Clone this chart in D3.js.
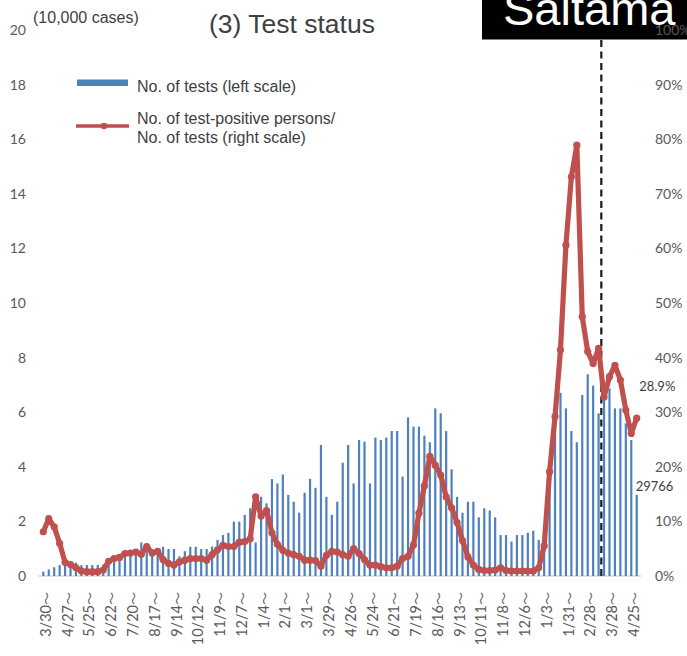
<!DOCTYPE html>
<html><head><meta charset="utf-8">
<script src="https://cdn.jsdelivr.net/npm/d3@7"></script>
<style>body{margin:0;background:#fff;overflow:hidden}</style>
</head><body>
<script>
// Weekly number of tests (unit: 10,000 cases), week starting 3/30/2020 ... 5/2/2022
const tests = [
0.16,0.24,0.32,0.40,0.42,0.46,0.49,0.40,0.40,0.40,
0.40,0.42,0.55,0.65,0.72,0.80,0.89,0.95,1.23,1.20,
0.98,0.89,1.07,0.99,0.99,0.72,0.91,1.07,1.07,0.99,
0.99,1.08,1.32,1.50,1.58,1.99,1.99,2.24,2.48,1.23,
2.90,2.66,3.55,3.39,3.72,2.97,2.72,2.32,3.05,3.56,
3.23,4.80,2.90,2.24,2.72,4.15,4.80,3.39,4.98,4.92,
3.39,5.07,4.98,5.07,5.31,5.31,3.64,5.81,5.47,5.47,
5.14,4.90,6.14,5.96,5.31,3.91,2.90,2.32,2.72,2.72,
2.15,2.48,2.40,2.15,1.50,1.50,1.26,1.50,1.50,1.59,
1.66,1.32,1.80,3.60,5.84,6.71,6.14,5.31,4.90,6.63,
7.39,6.97,5.96,6.60,6.87,6.14,6.14,5.59,4.98,2.9766
];
// Test-positive persons / tests (%)
const positivity = [
8.1,10.5,9.0,6.0,2.5,2.1,1.5,0.9,0.8,0.8,
0.8,1.1,2.7,3.2,3.4,4.1,4.2,4.4,4.0,5.4,
4.2,4.5,3.0,2.3,2.0,2.6,2.9,3.2,3.2,3.2,
2.9,3.9,4.8,5.6,5.4,5.4,6.2,6.3,6.8,14.5,
11.0,12.0,7.9,5.8,4.7,4.2,3.9,3.6,2.9,2.9,
2.8,1.8,3.8,4.5,4.4,3.9,3.6,5.0,4.1,3.0,
2.0,2.0,1.7,1.5,1.5,1.8,3.2,3.6,5.7,11.5,
16.5,21.9,20.3,18.5,14.5,12.5,9.8,6.5,3.5,2.0,
1.2,1.0,1.0,1.1,1.5,1.0,0.9,0.9,0.9,0.9,
0.9,1.5,5.5,19.1,29.2,41.4,60.6,73.1,78.9,47.5,
41.1,38.9,41.7,32.8,36.5,38.6,35.9,30.4,26.1,28.9
];
// Category labels shown every 4 weeks
const tickLabels = ["3/30","4/27","5/25","6/22","7/20","8/17","9/14","10/12","11/9","12/7",
"1/4","2/1","3/1","3/29","4/26","5/24","6/21","7/19","8/16","9/13","10/11","11/8","12/6",
"1/3","1/31","2/28","3/28","4/25"];
const tickEvery = 4;
const leftTicks = [0,2,4,6,8,10,12,14,16,18,20];
const rightTicks = [0,10,20,30,40,50,60,70,80,90,100];
const markerWeek = 102.5; // boundary between week of 3/14 and 3/21 (2022)
const lastTestsLabel = "29766";
const lastRateLabel = "28.9%";

const W = 687, H = 656;
const svg = d3.select("body").append("svg").attr("width", W).attr("height", H)
  .style("font-family", "Lato, 'Liberation Sans', sans-serif");

const idx = d3.range(tests.length);
const x = d3.scalePoint().domain(idx).range([43.3, 636.7]);
const yL = d3.scaleLinear().domain([0, 20]).range([576, 30]);
const yR = d3.scaleLinear().domain([0, 100]).range([576, 30]);

const axisColor = "#595959";

// baseline
svg.append("line").attr("x1", 38).attr("x2", 641).attr("y1", yL(0)).attr("y2", yL(0))
  .attr("stroke", "#D9D9D9").attr("stroke-width", 1.5);

// left axis
const gL = svg.append("g").attr("transform", "translate(30,0)")
  .call(d3.axisLeft(yL).tickValues(leftTicks).tickSize(0).tickPadding(4));
gL.select(".domain").remove();
gL.selectAll("text").attr("fill", axisColor).style("font-size", "14px").style("font-family", "Lato, sans-serif");

// bars
const bw = 2.2;
svg.append("g").selectAll("rect").data(tests).join("rect")
  .attr("x", (d, i) => x(i) - bw / 2)
  .attr("y", d => yL(d))
  .attr("width", bw)
  .attr("height", d => yL(0) - yL(d))
  .attr("fill", "#4F81BD");

// x labels
const tickIdx = tickLabels.map((t, k) => k * tickEvery);
const xt = svg.append("g").selectAll("text").data(tickIdx).join("text")
  .attr("transform", i => `translate(${x(i) + 2.5},592) rotate(-90)`)
  .attr("text-anchor", "end").attr("dy", "0.35em")
  .attr("fill", axisColor).style("font-size", "14.5px");
xt.append("tspan").text((i, k) => tickLabels[k]);
xt.append("tspan").style("font-family", "'Noto Sans CJK JP', sans-serif").style("font-size", "13px").text("～");

// dashed marker line
const xm = x(0) + (x(1) - x(0)) * markerWeek;
svg.append("line").attr("x1", xm).attr("x2", xm).attr("y1", 40).attr("y2", yL(0))
  .attr("stroke", "#1a1a1a").attr("stroke-width", 2.2).attr("stroke-dasharray", "7,4.5");

// positivity line
const red = "#C0504D";
svg.append("path").datum(positivity)
  .attr("d", d3.line().x((d, i) => x(i)).y(d => yR(d)))
  .attr("fill", "none").attr("stroke", red).attr("stroke-width", 5.2)
  .attr("stroke-linejoin", "round").attr("stroke-linecap", "round");
svg.append("g").selectAll("circle").data(positivity).join("circle")
  .attr("cx", (d, i) => x(i)).attr("cy", d => yR(d)).attr("r", 3.6).attr("fill", red);

// data labels
const li = tests.length - 1;
svg.append("text").attr("x", x(li) + 2.5).attr("y", yR(positivity[li]) - 27)
  .attr("fill", "#404040").style("font-size", "13px").text(lastRateLabel);
svg.append("text").attr("x", x(li) - 1).attr("y", yL(tests[li]) - 4)
  .attr("fill", "#404040").style("font-size", "13px").text(lastTestsLabel);

// title texts
svg.append("text").attr("x", 33).attr("y", 23).attr("fill", "#404040")
  .style("font-family", "'Liberation Sans', Arial, sans-serif").style("font-size", "16px").text("(10,000 cases)");
svg.append("text").attr("x", 209).attr("y", 33).attr("fill", "#404040")
  .style("font-family", "'Liberation Sans', Arial, sans-serif").style("font-size", "26.5px").text("(3) Test status");

// legend
const lg = svg.append("g").style("font-family", "'Liberation Sans', Arial, sans-serif").style("font-size", "16px");
lg.append("rect").attr("x", 77).attr("y", 79.5).attr("width", 51).attr("height", 6.5).attr("fill", "#4F81BD");
lg.append("text").attr("x", 137).attr("y", 91.5).attr("fill", "#404040").text("No. of tests (left scale)");
lg.append("line").attr("x1", 76).attr("x2", 129).attr("y1", 126).attr("y2", 126)
  .attr("stroke", red).attr("stroke-width", 3.5);
lg.append("circle").attr("cx", 104).attr("cy", 126).attr("r", 3.3).attr("fill", red);
lg.append("text").attr("x", 137).attr("y", 124).attr("fill", "#404040").text("No. of test-positive persons/");
lg.append("text").attr("x", 137).attr("y", 142.5).attr("fill", "#404040").text("No. of tests (right scale)");

// Saitama box
svg.append("rect").attr("x", 482).attr("y", -10).attr("width", 220).attr("height", 49.5).attr("fill", "#000");
svg.append("text").attr("x", 503).attr("y", 25).attr("fill", "#fff")
  .style("font-family", "'Liberation Sans', Arial, sans-serif").style("font-size", "47px").text("Saitama");

// right axis (drawn last: its 100% label overlaps the box as in the source)
const gR = svg.append("g").attr("transform", "translate(651,0)")
  .call(d3.axisRight(yR).tickValues(rightTicks).tickSize(0).tickPadding(4).tickFormat(d => d + "%"));
gR.select(".domain").remove();
gR.selectAll("text").attr("fill", axisColor).style("font-size", "14px").style("font-family", "Lato, sans-serif");
</script>
</body></html>
